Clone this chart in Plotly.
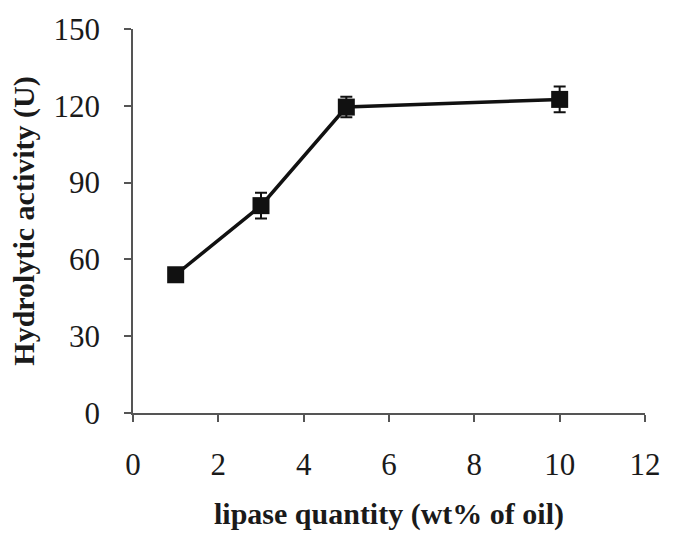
import plotly.graph_objects as go

# Lipase loading vs. hydrolytic activity
lipase_wt = [1, 3, 5, 10]
activity_u = [54, 81, 119.5, 122.5]
activity_err = [2, 5, 4, 5]

x_ticks = [0, 2, 4, 6, 8, 10, 12]
y_ticks = [0, 30, 60, 90, 120, 150]

serif = "Liberation Serif, Times New Roman, serif"

fig = go.Figure(
    go.Scatter(
        x=lipase_wt,
        y=activity_u,
        mode="lines+markers",
        line=dict(color="#111111", width=3.5),
        marker=dict(symbol="square", size=17, color="#111111"),
        error_y=dict(type="data", array=activity_err, visible=True,
                     color="#111111", thickness=2, width=6),
        showlegend=False,
    )
)

fig.update_layout(
    width=673,
    height=540,
    margin=dict(l=133, r=20, t=26, b=127),
    paper_bgcolor="white",
    plot_bgcolor="white",
    font=dict(family=serif, color="#1a1a1a", size=31),
)

fig.update_xaxes(
    range=[0, 12],
    tickvals=x_ticks,
    ticks="outside",
    ticklen=7,
    tickwidth=1.5,
    tickcolor="#555555",
    showline=True,
    linecolor="#555555",
    linewidth=1.5,
    showgrid=False,
    zeroline=False,
    tickfont=dict(size=31),
    ticklabelstandoff=16,
    title=dict(text="<b>lipase quantity (wt% of oil)</b>",
               font=dict(size=30), standoff=22),
)

fig.update_yaxes(
    range=[0, 150],
    tickvals=y_ticks,
    ticks="outside",
    ticklen=7,
    tickwidth=1.5,
    tickcolor="#555555",
    showline=True,
    linecolor="#555555",
    linewidth=1.5,
    showgrid=False,
    zeroline=False,
    tickfont=dict(size=31),
    ticklabelstandoff=18,
    title=dict(text="<b>Hydrolytic activity (U)</b>",
               font=dict(size=30), standoff=10),
)

fig.write_html("out.html")
